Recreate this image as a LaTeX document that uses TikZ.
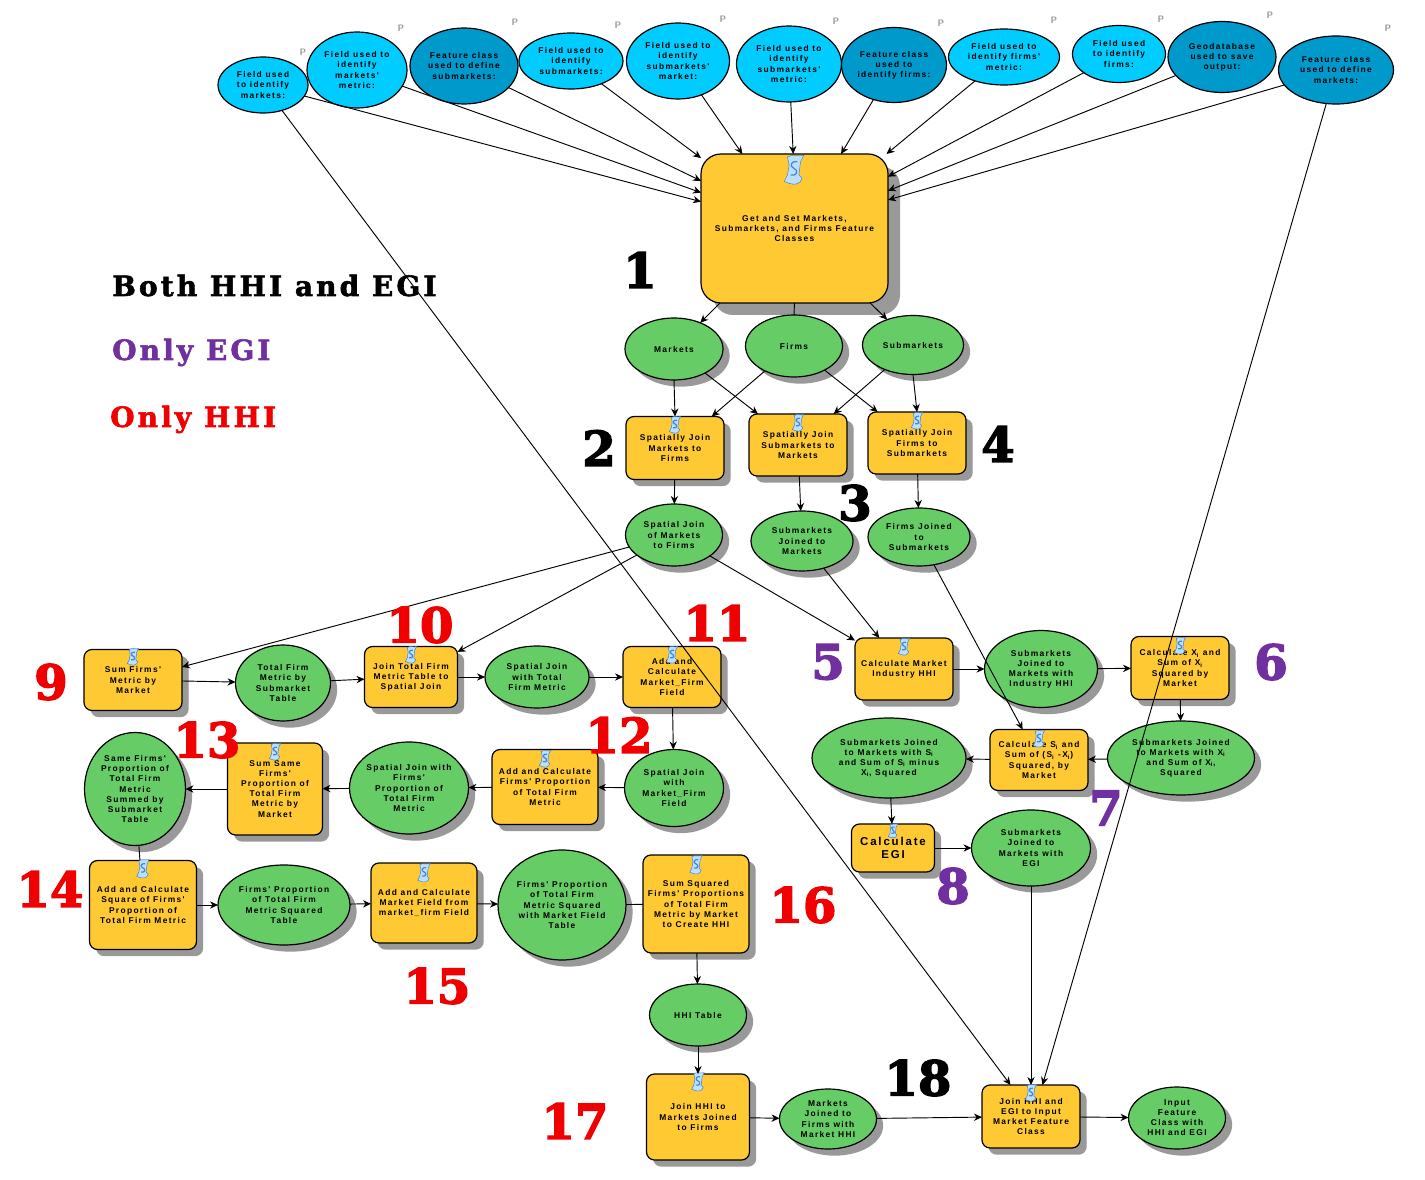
\documentclass[tikz,border=0pt]{standalone}
\usepackage{fontspec}
\usetikzlibrary{shapes.geometric,shadows,arrows.meta}
\newfontfamily\lblfont{Liberation Sans}[LetterSpace=16]
\newfontfamily\numfont{DejaVu Serif Bold}[FakeBold=3]
\newfontfamily\legfont{DejaVu Serif Bold}[FakeBold=2,LetterSpace=11]
\definecolor{toolc}{HTML}{FFC933}
\definecolor{greenc}{HTML}{66CC66}
\definecolor{bluec}{HTML}{00CCFF}
\definecolor{darkc}{HTML}{0099CC}
\definecolor{shadc}{HTML}{999999}
\definecolor{purp}{HTML}{7030A0}
\definecolor{redc}{HTML}{F00000}
\definecolor{iconb}{HTML}{3F86D8}
\definecolor{iconl}{HTML}{BFDFFF}
\tikzset{
 shad/.style={drop shadow={shadow xshift=5pt,shadow yshift=-5pt,fill=shadc,opacity=1}},
 lbl/.style={align=center,text=black,font=\lblfont\bfseries\fontsize{6.3pt}{7.55pt}\selectfont,outer sep=0pt},
 tool/.style={lbl,shape=rectangle,draw=black,line width=.9pt,fill=toolc,rounded corners=6pt,inner sep=0pt,shad},
 mainbox/.style={lbl,shape=rectangle,draw=black,line width=.9pt,fill=toolc,rounded corners=15pt,inner sep=0pt,
   drop shadow={shadow xshift=9pt,shadow yshift=-9pt,fill=shadc,opacity=1}},
 data/.style={lbl,shape=ellipse,draw=black,line width=.9pt,fill=greenc,inner sep=-18pt,shad},
 param/.style={lbl,shape=ellipse,draw=black,line width=.9pt,fill=bluec,inner sep=-18pt},
 paramd/.style={param,fill=darkc},
 arr/.style={-{Stealth[length=6pt,width=5.5pt]},line width=.7pt},
 ln/.style={line width=.7pt},
 bignum/.style={font=\numfont\fontsize{36pt}{36pt}\selectfont,inner sep=0pt},
 legend/.style={font=\legfont\fontsize{21pt}{22pt}\selectfont,inner sep=0pt,anchor=base west},
 pmark/.style={font=\sffamily\bfseries\fontsize{7pt}{7pt}\selectfont,text=shadc,inner sep=0pt},
}
\newcommand{\nd}[7][]{\node[#2,minimum width=#5*0.75pt,minimum height=#6*0.75pt,#1] (#3) at (#4) {#7};}
\newcommand{\scrollicon}[3]{%
 \begin{scope}[shift={(#1,#2)},scale=#3*1.3]
  \filldraw[draw=iconb,fill=iconl,line width=.4pt] (-4,-8) .. controls (-1,-10) and (3,-8) .. (6,-9) -- (4,-5) -- (3,3) -- (5,5) .. controls (4,9) and (0,10) .. (-6,7) -- (-4,3) -- (-3,-3) -- cycle;
  \draw[iconb,line width=.9pt] (2,-5) .. controls (-2,-6) and (-3,-2) .. (0,-1) .. controls (3,0) and (2,4) .. (-2,3);
 \end{scope}}
\newcommand{\Xs}{X\textsubscript{i}}
\newcommand{\Ss}{S\textsubscript{i}}
\begin{document}
\begin{tikzpicture}[x=0.75pt,y=-0.75pt]
\useasboundingbox (0,0) rectangle (1425,1180);
\fill[white] (0,0) rectangle (1425,1180);
% parameters
\nd{param}{b1}{263,85}{90}{56}{Field used\\to identify\\markets:}
\nd{param}{b2}{357,70}{100}{76}{Field used to\\identify\\markets'\\metric:}
\nd{paramd}{b3}{464,66}{108}{76}{Feature class\\used to define\\submarkets:}
\nd{param}{b4}{571,61}{104}{56}{Field used to\\identify\\submarkets:}
\nd{param}{b5}{678,61}{103}{76}{Field used to\\identify\\submarkets'\\market:}
\nd{param}{b6}{789,64}{105}{76}{Field used to\\identify\\submarkets'\\metric:}
\nd{paramd}{b7}{894,65}{105}{75}{Feature class\\used to\\identify firms:}
\nd{param}{b8}{1004,57}{111}{56}{Field used to\\identify firms'\\metric:}
\nd{param}{b9}{1119,54}{93}{57}{Field used\\to identify\\firms:}
\nd{paramd}{b10}{1222,57}{108}{71}{Geodatabase\\used to save\\output:}
\nd{paramd}{b11}{1336,70}{115}{68}{Feature class\\used to define\\markets:}
\node[pmark] (p1) at (303,52) {P};
\node[pmark] (p2) at (401,28) {P};
\node[pmark] (p3) at (515,22) {P};
\node[pmark] (p4) at (618,25) {P};
\node[pmark] (p5) at (723,19) {P};
\node[pmark] (p6) at (836,21) {P};
\node[pmark] (p7) at (941,23) {P};
\node[pmark] (p8) at (1054,20) {P};
\node[pmark] (p9) at (1161,19) {P};
\node[pmark] (p10) at (1270,15) {P};
\node[pmark] (p11) at (1388,28) {P};
% main
\nd{mainbox}{m}{794.5,228.5}{187}{149}{Get and Set Markets,\\Submarkets, and Firms Feature\\Classes}
\nd{data}{mk}{674,349}{98}{62}{Markets}
\nd{data}{fm}{794,346}{97}{62}{Firms}
\nd{data}{sm}{913,345}{101}{59}{Submarkets}
\nd{tool}{t2}{675,448}{98}{63}{Spatially Join\\Markets to\\Firms}
\nd{tool}{t3}{798,445}{98}{62}{Spatially Join\\Submarkets to\\Markets}
\nd{tool}{t4}{917,443}{98}{62}{Spatially Join\\Firms to\\Submarkets}
\nd{data}{e2}{674,535}{97}{62}{Spatial Join\\of Markets\\to Firms}
\nd{data}{e3}{802,541}{102}{60}{Submarkets\\Joined to\\Markets}
\nd{data}{e4}{919,537}{102}{58}{Firms Joined\\to\\Submarkets}
% EGI side
\nd{tool}{t5}{904,669}{98}{62}{Calculate Market\\Industry HHI}
\nd{data}{e5}{1041,669}{113}{77}{Submarkets\\Joined to\\Markets with\\Industry HHI}
\nd{tool}{t6}{1180,668}{98}{63}{Calculate \Xs{} and\\Sum of \Xs\\Squared by\\Market}
\nd{data}{e6}{1181,758}{147}{74}{Submarkets Joined\\to Markets with \Xs\\and Sum of \Xs,\\Squared}
\nd{tool}{t7}{1039,760}{98}{61}{Calculate \Ss{} and\\Sum of (\Ss{} -\Xs)\\Squared, by\\Market}
\nd{data}{e7}{889,758}{154}{80}{Submarkets Joined\\to Markets with \Ss\\and Sum of \Ss{} minus\\\Xs, Squared}
\nd[font=\lblfont\bfseries\fontsize{8.6pt}{10pt}\selectfont]{tool}{t8}{893,848}{83}{48}{Calculate\\EGI}
\nd{data}{e8}{1031,848}{119}{76}{Submarkets\\Joined to\\Markets with\\EGI}
% HHI side
\nd{tool}{t9}{133,680}{98}{61}{Sum Firms'\\Metric by\\Market}
\nd{data}{e9}{283,683}{95}{76}{Total Firm\\Metric by\\Submarket\\Table}
\nd{tool}{t10}{411,677}{93}{61}{Join Total Firm\\Metric Table to\\Spatial Join}
\nd{data}{e10}{537,677}{104}{62}{Spatial Join\\with Total\\Firm Metric}
\nd{tool}{t11}{672,677}{98}{61}{Add and\\Calculate\\Market\_Firm\\Field}
\nd{data}{e12}{674,788}{99}{77}{Spatial Join\\with\\Market\_Firm\\Field}
\nd{tool}{t12}{545,787}{106}{75}{Add and Calculate\\Firms' Proportion\\of Total Firm\\Metric}
\nd{data}{e13}{409,788}{119}{92}{Spatial Join with\\Firms'\\Proportion of\\Total Firm\\Metric}
\nd{tool}{t13}{275,789}{95}{92}{Sum Same\\Firms'\\Proportion of\\Total Firm\\Metric by\\Market}
\nd{data}{e14}{135,789}{101}{113}{Same Firms'\\Proportion of\\Total Firm\\Metric\\Summed by\\Submarket\\Table}
\nd{tool}{t14}{143,905}{107}{89}{Add and Calculate\\Square of Firms'\\Proportion of\\Total Firm Metric}
\nd{data}{e15}{284,905}{132}{80}{Firms' Proportion\\of Total Firm\\Metric Squared\\Table}
\nd{tool}{t15}{424,903}{106}{80}{Add and Calculate\\Market Field from\\market\_firm Field}
\nd{data}{e16}{562,905}{128}{110}{Firms' Proportion\\of Total Firm\\Metric Squared\\with Market Field\\Table}
\nd{tool}{t16}{696,904}{106}{98}{Sum Squared\\Firms' Proportions\\of Total Firm\\Metric by Market\\to Create HHI}
\nd{data}{e17}{698,1015}{97}{62}{HHI Table}
\nd{tool}{t17}{698,1117}{103}{86}{Join HHI to\\Markets Joined\\to Firms}
\nd{data}{e18}{828,1119}{97}{60}{Markets\\Joined to\\Firms with\\Market HHI}
\nd{tool}{t18}{1031,1116.5}{98}{63}{Join HHI and\\EGI to Input\\Market Feature\\Class}
\nd{data}{e19}{1177,1118}{97}{62}{Input\\Feature\\Class with\\HHI and EGI}
% icons
\scrollicon{794}{170}{1.25}
\scrollicon{675}{425}{.72}
\scrollicon{798}{423}{.72}
\scrollicon{917}{421}{.72}
\scrollicon{904}{647}{.72}
\scrollicon{1180}{646}{.72}
\scrollicon{1039}{739}{.72}
\scrollicon{893}{831}{.6}
\scrollicon{133}{657}{.72}
\scrollicon{411}{655}{.72}
\scrollicon{672}{655}{.72}
\scrollicon{545}{759}{.72}
\scrollicon{275}{752}{.72}
\scrollicon{143}{869}{.8}
\scrollicon{424}{873}{.8}
\scrollicon{696}{865}{.8}
\scrollicon{698}{1082}{.8}
\scrollicon{1031}{1093}{.72}
% connectors
\draw[arr] (b1) -- (m.164.5);
\draw[arr] (b2) -- (m.159.3);
\draw[arr] (b3) -- (m.153.7);
\draw[arr] (b4) -- (m.143);
\draw[arr] (b5) -- (m.125.5);
\draw[arr] (b6) -- (m.91.5);
\draw[arr] (b7) -- (m.58);
\draw[arr] (b8) -- (m.39);
\draw[arr] (b9) -- (m.29.8);
\draw[arr] (b10) -- (m.22.4);
\draw[arr] (b11) -- (m.17.5);
\draw[arr] (b1) -- (t18.123.7);
\draw[arr] (b11) -- (t18.70.7);
\draw[arr] (m) -- (mk);
\draw[ln] (m.south) -- (fm.north);
\draw[arr] (m) -- (sm);
\draw[arr] (mk.south) -- (t2.north);
\draw[arr] (mk) -- (t3);
\draw[arr] (fm) -- (t2);
\draw[arr] (fm) -- (t4);
\draw[arr] (sm) -- (t3);
\draw[arr] (sm.south) -- (t4.north);
\draw[arr] (t2) -- (e2);
\draw[arr] (t3) -- (e3);
\draw[arr] (t4) -- (e4);
\draw[arr] (e2) -- (t9);
\draw[arr] (e2) -- (t10);
\draw[arr] (e2) -- (t5);
\draw[arr] (e3) -- (t5);
\draw[arr] (e4) -- (t7);
\draw[arr] (t5) -- (e5);
\draw[arr] (e5) -- (t6);
\draw[arr] (t6) -- (e6);
\draw[arr] (e6) -- (t7);
\draw[arr] (t7) -- (e7);
\draw[arr] (e7) -- (t8);
\draw[arr] (t8) -- (e8);
\draw[arr] (e8.south) -- (t18.north);
\draw[arr] (t9) -- (e9);
\draw[arr] (e9) -- (t10);
\draw[arr] (t10) -- (e10);
\draw[arr] (e10) -- (t11);
\draw[arr] (t11) -- (e12);
\draw[arr] (e12) -- (t12);
\draw[arr] (t12) -- (e13);
\draw[arr] (e13) -- (t13);
\draw[arr] (t13) -- (e14);
\draw[ln] (e14) -- (t14);
\draw[arr] (t14) -- (e15);
\draw[arr] (e15) -- (t15);
\draw[arr] (t15) -- (e16);
\draw[ln] (e16) -- (t16);
\draw[arr] (t16) -- (e17);
\draw[arr] (e17) -- (t17);
\draw[arr] (t17) -- (e18);
\draw[arr] (e18) -- (t18);
\draw[arr] (t18) -- (e19);
% legend
\node[legend,text=black] (lgA) at (112,296) {Both HHI and EGI};
\node[legend,text=purp] (lgB) at (112,360) {Only EGI};
\node[legend,text=redc] (lgC) at (110,427) {Only HHI};
% step numbers
\node[bignum,text=black] (n1) at (640,270) {1};
\node[bignum,text=black] (n2) at (599,448) {2};
\node[bignum,text=black] (n3) at (855,503) {3};
\node[bignum,text=black] (n4) at (998,444) {4};
\node[bignum,text=purp] (n5) at (828,662) {5};
\node[bignum,text=purp] (n6) at (1271,662) {6};
\node[bignum,text=purp] (n7) at (1106,808) {7};
\node[bignum,text=purp] (n8) at (953,886) {8};
\node[bignum,text=redc] (n9) at (51,682) {9};
\node[bignum,text=redc] (n10) at (420,625) {10};
\node[bignum,text=redc] (n11) at (717,623) {11};
\node[bignum,text=redc] (n12) at (619,735) {12};
\node[bignum,text=redc] (n13) at (207,740) {13};
\node[bignum,text=redc] (n14) at (50,889) {14};
\node[bignum,text=redc] (n15) at (437,986) {15};
\node[bignum,text=redc] (n16) at (803,905) {16};
\node[bignum,text=redc] (n17) at (575,1121) {17};
\node[bignum,text=black] (n18) at (918,1078) {18};
\end{tikzpicture}
\end{document}
